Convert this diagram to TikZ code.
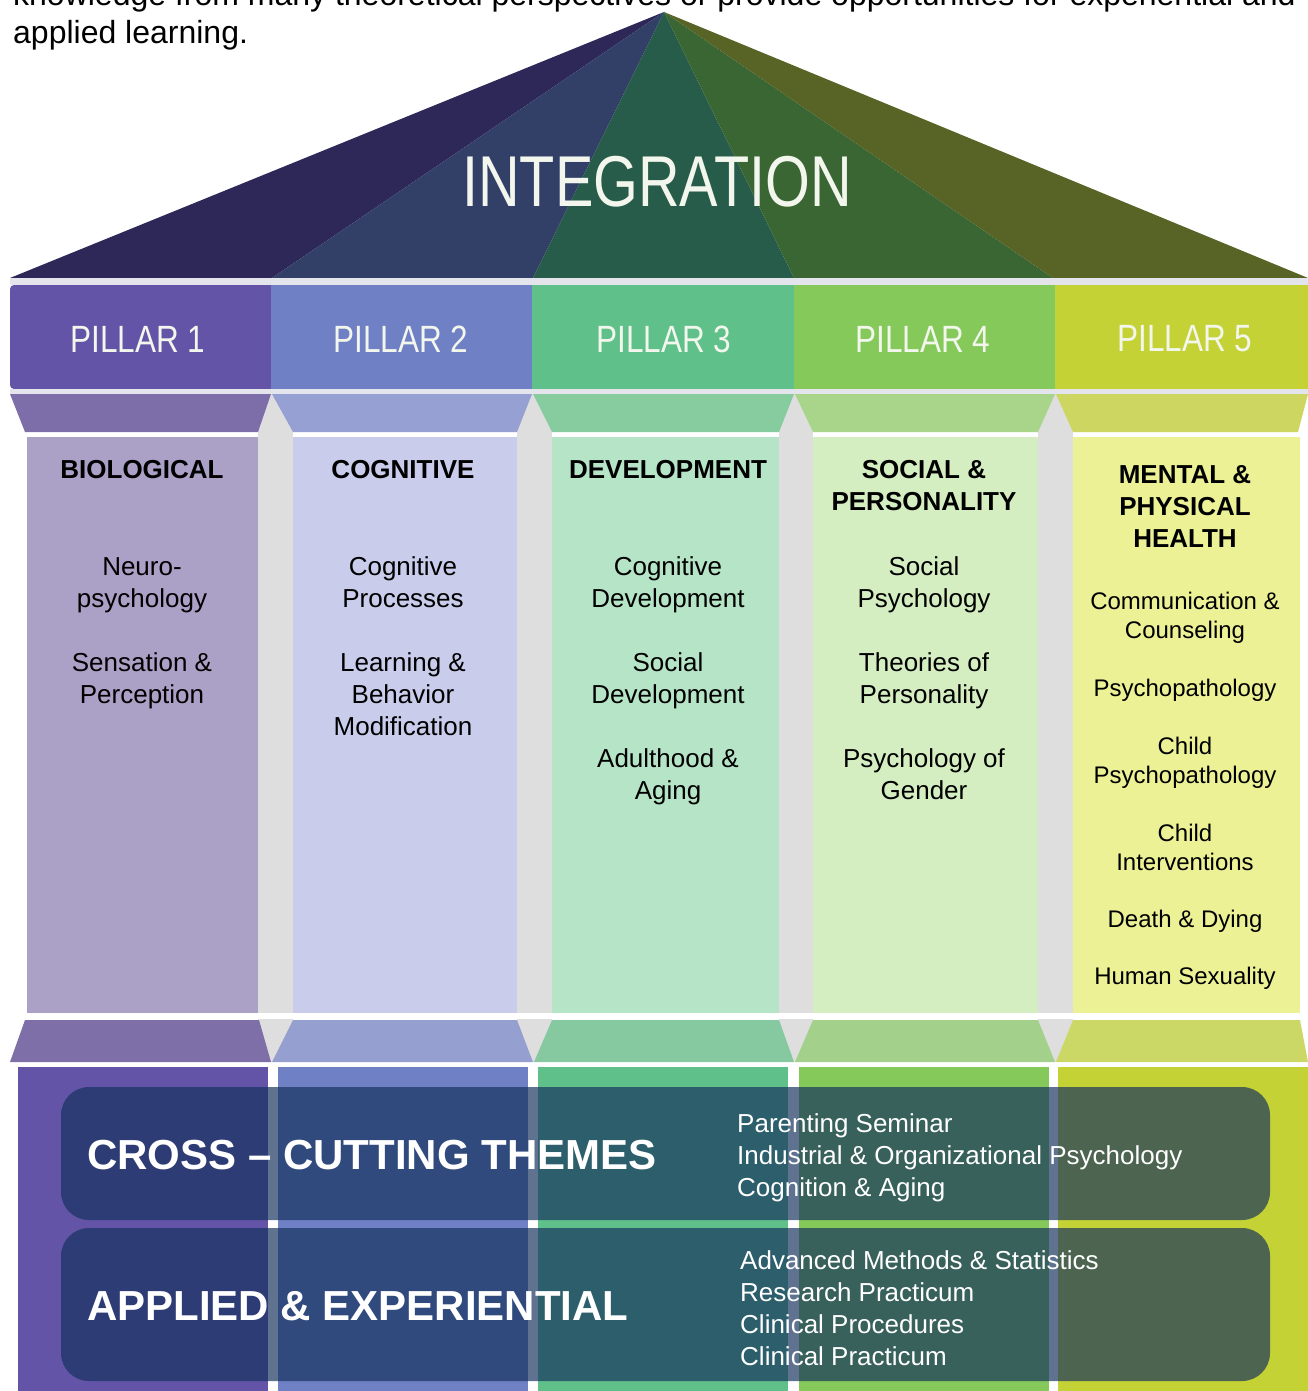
\documentclass[tikz,border=0pt]{standalone}
\usepackage{fontspec}
\setmainfont{Liberation Sans}
\newfontfamily\narrowfont[FakeStretch=0.83]{Liberation Sans}
\newfontfamily\integfont[FakeStretch=0.80]{Liberation Sans}
\definecolor{roofA}{RGB}{46,40,88}
\definecolor{roofB}{RGB}{50,64,104}
\definecolor{roofC}{RGB}{40,92,74}
\definecolor{roofD}{RGB}{58,102,52}
\definecolor{roofE}{RGB}{88,100,38}
\definecolor{headA}{RGB}{100,84,168}
\definecolor{headB}{RGB}{111,128,196}
\definecolor{headC}{RGB}{95,192,138}
\definecolor{headD}{RGB}{133,201,90}
\definecolor{headE}{RGB}{197,210,53}
\definecolor{capA}{RGB}{125,110,170}
\definecolor{capB}{RGB}{150,160,210}
\definecolor{capC}{RGB}{134,204,158}
\definecolor{capD}{RGB}{168,213,138}
\definecolor{capE}{RGB}{204,214,96}
\definecolor{shaftA}{RGB}{171,160,198}
\definecolor{shaftB}{RGB}{201,205,235}
\definecolor{shaftC}{RGB}{182,228,199}
\definecolor{shaftD}{RGB}{212,237,193}
\definecolor{shaftE}{RGB}{236,241,150}
\definecolor{baseA}{RGB}{126,111,168}
\definecolor{baseB}{RGB}{150,160,208}
\definecolor{baseC}{RGB}{134,201,160}
\definecolor{baseD}{RGB}{163,208,138}
\definecolor{baseE}{RGB}{204,216,102}
\definecolor{gapgray}{RGB}{222,222,222}
\definecolor{stripe}{RGB}{228,228,236}
\definecolor{overlay}{RGB}{20,49,93}
\definecolor{labelwhite}{RGB}{242,246,236}
\begin{document}
\begin{tikzpicture}[x=1pt,y=-1pt,
  item/.style={font=\fontsize{26}{32}\selectfont, align=center, text=black, inner sep=0pt},
  itemsmall/.style={font=\fontsize{24}{29}\selectfont, align=center, text=black, inner sep=0pt},
  colhead/.style={font=\bfseries\fontsize{26}{32}\selectfont, align=center, text=black, inner sep=0pt},
  plabel/.style={font=\narrowfont\fontsize{38}{40}\selectfont, text=labelwhite, inner sep=0pt},
  band/.style={fill=overlay, fill opacity=0.68, rounded corners=28pt},
  bandtitle/.style={font=\bfseries\fontsize{42}{48}\selectfont, text=white, inner sep=0pt, anchor=west},
  bandlist/.style={font=\fontsize{26}{32}\selectfont, text=white, align=left, inner sep=0pt, anchor=west},
  toptext/.style={font=\fontsize{32}{37}\selectfont, text=black, inner sep=0pt, anchor=base west}
]
\useasboundingbox (0,0) rectangle (1308,1391);
\clip (0,0) rectangle (1308,1391);
\fill[white] (0,0) rectangle (1308,1391);

% intro text (cut at top edge, as in the reference)
\node[toptext] (intro1) at (13,6) {knowledge from many theoretical perspectives or provide opportunities for experiential and};
\node[toptext] (intro2) at (13,44) {applied learning.};

% roof
\coordinate (apex) at (664,12);
\fill[roofA] (apex) -- (10,278) -- (272,278) -- cycle;
\fill[roofB] (apex) -- (272,278) -- (533,278) -- cycle;
\fill[roofC] (apex) -- (533,278) -- (794,278) -- cycle;
\fill[roofD] (apex) -- (794,278) -- (1053,278) -- cycle;
\fill[roofE] (apex) -- (1053,278) -- (1308,278) -- cycle;
\node[font=\integfont\fontsize{72}{80}\selectfont, text=labelwhite, inner sep=0pt] (integration) at (657,182) {INTEGRATION};

% stripe under roof
\fill[stripe] (10,278) rectangle (1308,285);

% pillar heads
\fill[headA, rounded corners=4pt] (10,285) rectangle (275,389);
\fill[headA] (200,285) rectangle (271,389);
\fill[headB] (271,285) rectangle (532,389);
\fill[headC] (532,285) rectangle (794,389);
\fill[headD] (794,285) rectangle (1055,389);
\fill[headE] (1055,285) rectangle (1308,389);
\node[plabel] (p1) at (138,339) {PILLAR 1};
\node[plabel] (p2) at (401,339) {PILLAR 2};
\node[plabel] (p3) at (664,339) {PILLAR 3};
\node[plabel] (p4) at (923,339) {PILLAR 4};
\node[plabel] (p5) at (1185,339) {PILLAR 5};

\fill[stripe] (10,389) rectangle (1308,394);

% gray gaps between shafts
\fill[gapgray] (258,394) rectangle (293,1062);
\fill[gapgray] (517,394) rectangle (552,1062);
\fill[gapgray] (779,394) rectangle (813,1062);
\fill[gapgray] (1038,394) rectangle (1073,1062);

% capitals
\fill[capA] (10,394) -- (271,394) -- (258,432) -- (25,432) -- cycle;
\fill[capB] (272,394) -- (532,394) -- (517,432) -- (293,432) -- cycle;
\fill[capC] (533,394) -- (794,394) -- (779,432) -- (552,432) -- cycle;
\fill[capD] (795,394) -- (1055,394) -- (1038,432) -- (813,432) -- cycle;
\fill[capE] (1056,394) -- (1308,394) -- (1298,432) -- (1073,432) -- cycle;

% shafts
\fill[shaftA] (27,437) rectangle (258,1013);
\fill[shaftB] (293,437) rectangle (517,1013);
\fill[shaftC] (552,437) rectangle (779,1013);
\fill[shaftD] (813,437) rectangle (1038,1013);
\fill[shaftE] (1073,437) rectangle (1300,1013);

\fill[white] (10,1013) rectangle (1308,1019);

% bases
\fill[baseA] (25,1020) -- (259,1020) -- (271,1062) -- (10,1062) -- cycle;
\fill[baseB] (293,1020) -- (517,1020) -- (533,1062) -- (272,1062) -- cycle;
\fill[baseC] (552,1020) -- (779,1020) -- (794,1062) -- (534,1062) -- cycle;
\fill[baseD] (813,1020) -- (1038,1020) -- (1055,1062) -- (795,1062) -- cycle;
\fill[baseE] (1073,1020) -- (1300,1020) -- (1308,1062) -- (1056,1062) -- cycle;

% column texts
\node[colhead] (h1) at (142,470) {BIOLOGICAL};
\node[item] (a1) at (142,585) {Neuro-\\psychology};
\node[item] (a2) at (142,681) {Sensation \&\\Perception};

\node[colhead] (h2) at (403,470) {COGNITIVE};
\node[item] (b1) at (403,582) {Cognitive\\Processes};
\node[item] (b2) at (403,694) {Learning \&\\Behavior\\Modification};

\node[colhead] (h3) at (668,470) {DEVELOPMENT};
\node[item] (c1) at (668,585) {Cognitive\\Development};
\node[item] (c2) at (668,681) {Social\\Development};
\node[item] (c3) at (668,777) {Adulthood \&\\Aging};

\node[colhead] (h4) at (924,486) {SOCIAL \&\\PERSONALITY};
\node[item] (d1) at (924,585) {Social\\Psychology};
\node[item] (d2) at (924,681) {Theories of\\Personality};
\node[item] (d3) at (924,774) {Psychology of\\Gender};

\node[colhead] (h5) at (1185,507) {MENTAL \&\\PHYSICAL\\HEALTH};
\node[itemsmall] (e1) at (1185,618) {Communication \&\\Counseling};
\node[itemsmall] (e2) at (1185,690) {Psychopathology};
\node[itemsmall] (e3) at (1185,763) {Child\\Psychopathology};
\node[itemsmall] (e4) at (1185,847) {Child\\Interventions};
\node[itemsmall] (e5) at (1185,921) {Death \& Dying};
\node[itemsmall] (e6) at (1185,978) {Human Sexuality};

% plinth stripes
\fill[headA] (18,1067) rectangle (268,1391);
\fill[headB] (278,1067) rectangle (528,1391);
\fill[headC] (538,1067) rectangle (788,1391);
\fill[headD] (799,1067) rectangle (1049,1391);
\fill[headE] (1058,1067) rectangle (1308,1391);

% overlay bands
\fill[band] (61,1087) rectangle (1270,1220);
\fill[band] (61,1228) rectangle (1270,1381);

\node[bandtitle] (cross) at (87,1155) {CROSS – CUTTING THEMES};
\node[bandlist] (crosslist) at (737,1158) {Parenting Seminar\\Industrial \& Organizational Psychology\\Cognition \& Aging};
\node[bandtitle] (applied) at (87,1306) {APPLIED \& EXPERIENTIAL};
\node[bandlist] (appliedlist) at (740,1308) {Advanced Methods \& Statistics\\Research Practicum\\Clinical Procedures\\Clinical Practicum};
\end{tikzpicture}
\end{document}
